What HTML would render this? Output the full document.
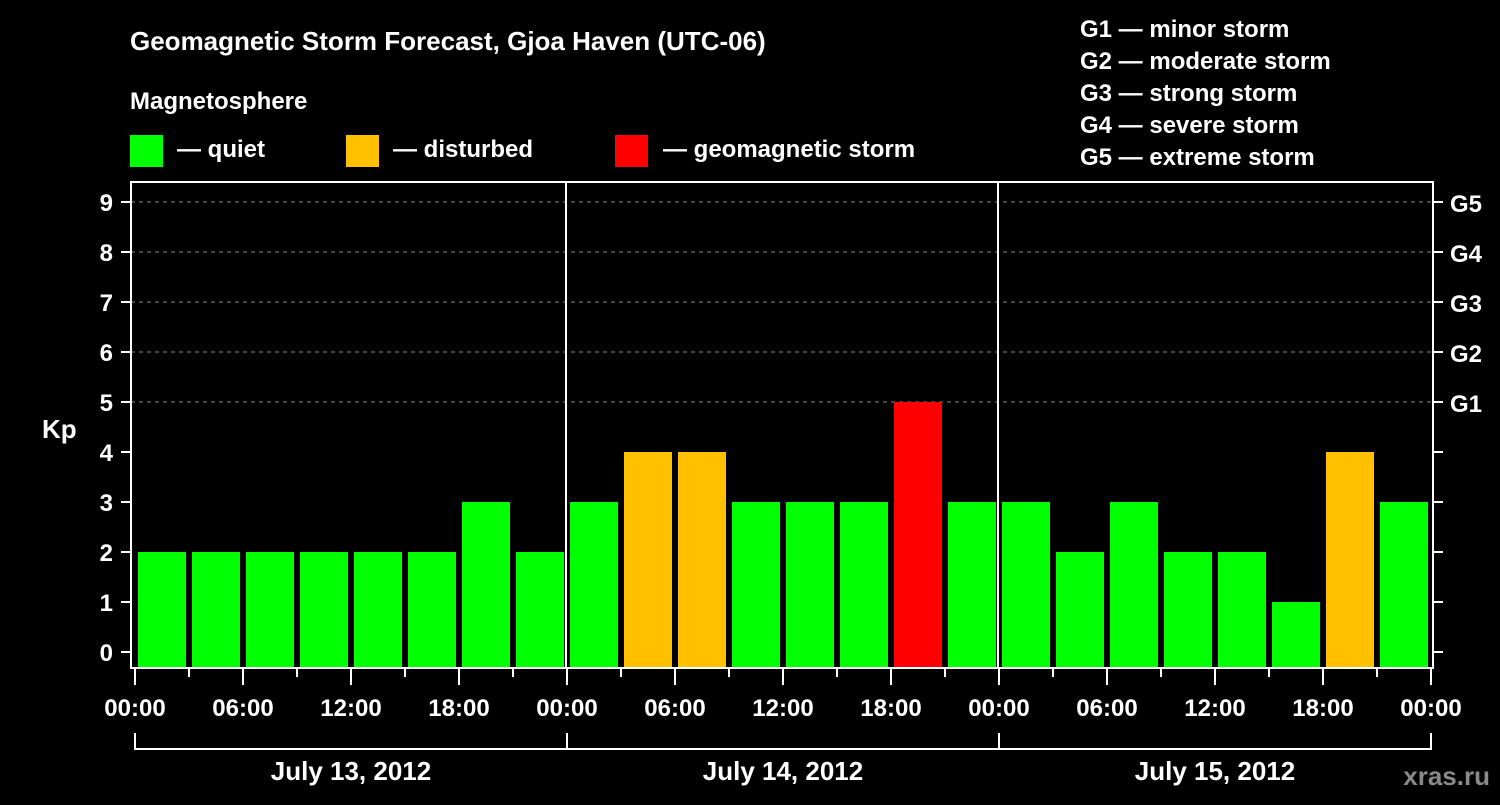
<!DOCTYPE html>
<html><head><meta charset="utf-8"><style>
body{margin:0;background:#000;width:1500px;height:800px;overflow:hidden}
svg text{font-family:"Liberation Sans",sans-serif;font-weight:bold;fill:#fff}
</style></head><body>
<svg id="c" width="1500" height="800">
<text x="130" y="50" font-size="26">Geomagnetic Storm Forecast, Gjoa Haven (UTC-06)</text>
<text x="130" y="109" font-size="24">Magnetosphere</text>
<rect x="130" y="135" width="33" height="32" fill="#00ff00"/>
<text x="177" y="157" font-size="24">— quiet</text>
<rect x="346" y="135" width="33" height="32" fill="#ffc000"/>
<text x="393" y="157" font-size="24">— disturbed</text>
<rect x="615" y="135" width="33" height="32" fill="#ff0000"/>
<text x="663" y="157" font-size="24">— geomagnetic storm</text>
<g font-size="24">
<text x="1080" y="37">G1 — minor storm</text>
<text x="1080" y="69">G2 — moderate storm</text>
<text x="1080" y="101">G3 — strong storm</text>
<text x="1080" y="133">G4 — severe storm</text>
<text x="1080" y="165">G5 — extreme storm</text>
</g>
<text x="42" y="438" font-size="26">Kp</text>
<text x="1490" y="785" font-size="26" text-anchor="end" fill="#888" style="fill:#8a8a8a">xras.ru</text>
<g id="plot"></g>
</svg>
<script>
const days=["July 13, 2012","July 14, 2012","July 15, 2012"];
const hourLabels=["00:00","06:00","12:00","18:00"];
const kpValues=[2,2,2,2,2,2,3,2, 3,4,4,3,3,3,5,3, 3,2,3,2,2,1,4,3];
const yTicks=[0,1,2,3,4,5,6,7,8,9];
const gLabels={5:"G1",6:"G2",7:"G3",8:"G4",9:"G5"};
const NS="http://www.w3.org/2000/svg",g=document.getElementById('plot');
const X0=135,slotW=54,yS=v=>652-v*50;
function el(t,a,txt){const e=document.createElementNS(NS,t);for(const k in a)e.setAttribute(k,a[k]);if(txt!=null)e.textContent=txt;g.appendChild(e);return e;}
yTicks.forEach(v=>{
 const y=yS(v);
 if(v>=5){const l=el('line',{x1:131,x2:1433,y1:y,y2:y,stroke:'#888','stroke-dasharray':'4,4','stroke-width':1});}
 const t=el('line',{x1:121,x2:131,y1:y,y2:y,stroke:'#fff','stroke-width':2});
 const r=el('line',{x1:1433,x2:1443,y1:y,y2:y,stroke:'#fff','stroke-width':2});
 const lb=el('text',{x:113,y:y+9,'font-size':24,'text-anchor':'end'},v);
 
 if(gLabels[v]){const gl=el('text',{x:1450,y:y+10,'font-size':24},gLabels[v]);}
});
kpValues.forEach((v,i)=>{
 const x=X0+i*slotW+3,y=yS(v);
 const c=v>=5?'#ff0000':(v>=4?'#ffc000':'#00ff00');
 const b=el('rect',{x:x,y:y,width:48,height:668-y,fill:c});
 
});
for(let d=1;d<days.length;d++){const x=X0+d*8*slotW-3+3;el('line',{x1:x-1,x2:x-1,y1:182,y2:668,stroke:'#fff','stroke-width':2});}
const fr=el('rect',{x:131,y:182,width:1302,height:486,fill:'none',stroke:'#fff','stroke-width':2});

for(let i=0;i<=kpValues.length;i++){
 const x=X0+i*slotW;
 el('line',{x1:x,x2:x,y1:669,y2:i%2==0?685:677,stroke:'#fff','stroke-width':2});
 if(i%2==0){const t=el('text',{x:x,y:716,'font-size':24,'text-anchor':'middle'},hourLabels[(i/2)%4]);}
}
days.forEach((d,k)=>{
 const x1=X0+k*8*slotW,x2=x1+8*slotW;
 el('line',{x1:x1,x2:x1,y1:733,y2:750,stroke:'#fff','stroke-width':2});
 el('line',{x1:x1,x2:x2,y1:749,y2:749,stroke:'#fff','stroke-width':2});
 if(k==days.length-1)el('line',{x1:x2,x2:x2,y1:733,y2:750,stroke:'#fff','stroke-width':2});
 const t=el('text',{x:(x1+x2)/2,y:780,'font-size':26,'text-anchor':'middle'},d);
 
});
</script>
</body></html>
